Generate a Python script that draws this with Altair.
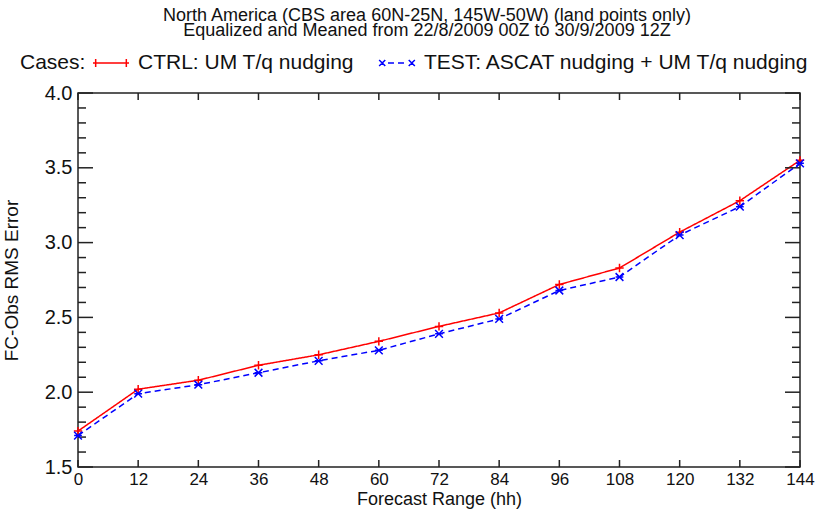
import altair as alt
import pandas as pd

# Forecast lead times (hours) and RMS errors for each experiment
hours = [0, 12, 24, 36, 48, 60, 72, 84, 96, 108, 120, 132, 144]
ctrl_rms = [1.74, 2.02, 2.08, 2.18, 2.25, 2.34, 2.44, 2.53, 2.72, 2.83, 3.07, 3.28, 3.55]
test_rms = [1.71, 1.99, 2.05, 2.13, 2.21, 2.28, 2.39, 2.49, 2.68, 2.77, 3.05, 3.24, 3.53]

case_names = ["CTRL: UM T/q nudging", "TEST: ASCAT nudging + UM T/q nudging"]
case_colors = ["#ff0000", "#0000ff"]

# Axis tick positions
y_major = [1.5, 2.0, 2.5, 3.0, 3.5, 4.0]
y_minor = [1.6, 1.7, 1.8, 1.9, 2.1, 2.2, 2.3, 2.4, 2.6, 2.7, 2.8, 2.9,
           3.1, 3.2, 3.3, 3.4, 3.6, 3.7, 3.8, 3.9]
x_ticks = hours

title_lines = [
    "North America (CBS area 60N-25N, 145W-50W) (land points only)",
    "Equalized and Meaned from 22/8/2009 00Z to 30/9/2009 12Z",
]

W, H = 722, 374
FONT = "Liberation Sans"
AXIS_COLOR = "#222222"

df = pd.DataFrame({
    "hour": hours * 2,
    "rms": ctrl_rms + test_rms,
    "case": [case_names[0]] * len(hours) + [case_names[1]] * len(hours),
})
ymaj_df = pd.DataFrame({"rms": y_major})
ymin_df = pd.DataFrame({"rms": y_minor})
xt_df = pd.DataFrame({"hour": x_ticks})

xscale = alt.Scale(domain=[0, 144], nice=False, zero=False)
yscale = alt.Scale(domain=[1.5, 4.0], nice=False, zero=False)

x_axis = alt.Axis(
    values=x_ticks,
    title="Forecast Range (hh)",
    tickSize=0,
    domain=False,
    grid=False,
    labelFlush=False,
    labelFontSize=17,
    labelPadding=4,
    titleFontSize=18,
    titleFontWeight="normal",
    titlePadding=3,
)
y_axis = alt.Axis(
    values=y_major,
    format=".1f",
    title="FC-Obs RMS Error",
    tickSize=0,
    domain=False,
    grid=False,
    labelFontSize=20,
    labelPadding=6,
    titleFontSize=19,
    titleFontWeight="normal",
    titlePadding=23,
)


def X(field="hour"):
    return alt.X(f"{field}:Q", scale=xscale, axis=x_axis)


def Y(field="rms"):
    return alt.Y(f"{field}:Q", scale=yscale, axis=y_axis)


# Marker glyphs: plus for CTRL, asterisk-like cross for TEST
plus_path = "M-1,0H1M0,-1V1"
star_path = "M-1,-1L1,1M-1,1L1,-1M-1,0H1"

# Legend glyphs: a short line segment with the marker drawn at each end
legend_ctrl = "M-1,0H1M-0.85,-0.22V0.22M0.85,-0.22V0.22"


def x_arms(cx):
    r = 0.17
    return "".join(
        f"M{cx},0L{cx + dx * r:.3f},{dy * r:.3f}"
        for dx, dy in [(-1, -1), (1, -1), (-1, 1), (1, 1)]
    )


legend_test = x_arms(-0.82) + "M-0.5,0H0.5" + x_arms(0.82)

legend = alt.Legend(
    title="Cases:",
    orient="none",
    direction="horizontal",
    legendX=-58,
    legendY=-49,
    titleOrient="left",
    titleAnchor="middle",
    titleBaseline="line-top",
    titleLineHeight=8,
    titleFontSize=21,
    titleFontWeight="normal",
    titleFont=FONT,
    titleColor="#111111",
    titlePadding=6,
    labelFontSize=21,
    labelFont=FONT,
    labelColor="#111111",
    labelLimit=0,
    labelOffset=8,
    columnPadding=22,
    symbolSize=1300,
    symbolStrokeWidth=1.5,
)

color_enc = alt.Color("case:N", scale=alt.Scale(domain=case_names, range=case_colors), legend=legend)
dash_enc = alt.StrokeDash("case:N", scale=alt.Scale(domain=case_names, range=[[1, 0], [6, 4]]),
                          legend=legend)

lines = alt.Chart(df).mark_line(strokeWidth=1.5).encode(
    x=X(), y=Y(), color=color_enc, strokeDash=dash_enc,
)

# Invisible layer that only supplies the legend glyph shapes
legend_glyphs = alt.Chart(df).mark_point(filled=False, strokeOpacity=0, fillOpacity=0).encode(
    x=X(), y=Y(),
    color=color_enc,
    strokeDash=dash_enc,
    shape=alt.Shape("case:N", scale=alt.Scale(domain=case_names, range=[legend_ctrl, legend_test]),
                    legend=legend),
)

ctrl_pts = alt.Chart(df).transform_filter(
    alt.datum.case == case_names[0]
).mark_point(shape=plus_path, filled=False, size=70, strokeWidth=1.5,
             color=case_colors[0], opacity=1).encode(x=X(), y=Y())
test_pts = alt.Chart(df).transform_filter(
    alt.datum.case == case_names[1]
).mark_point(shape=star_path, filled=False, size=60, strokeWidth=1.5,
             color=case_colors[1], opacity=1).encode(x=X(), y=Y())


# Inward-pointing ticks on all four sides of the frame
def yticks(data, length):
    left = alt.Chart(data).mark_rule(color=AXIS_COLOR, strokeWidth=1.5).encode(
        y=Y(), x=alt.value(0), x2=alt.value(length))
    right = alt.Chart(data).mark_rule(color=AXIS_COLOR, strokeWidth=1.5).encode(
        y=Y(), x=alt.value(W - length), x2=alt.value(W))
    return [left, right]


def xticks(data, length):
    bottom = alt.Chart(data).mark_rule(color=AXIS_COLOR, strokeWidth=1.5).encode(
        x=X(), y=alt.value(H - length), y2=alt.value(H))
    top = alt.Chart(data).mark_rule(color=AXIS_COLOR, strokeWidth=1.5).encode(
        x=X(), y=alt.value(0), y2=alt.value(length))
    return [bottom, top]


layers = ([lines] + yticks(ymaj_df, 15) + yticks(ymin_df, 8) + xticks(xt_df, 7)
          + [legend_glyphs, ctrl_pts, test_pts])

chart = alt.layer(*layers).properties(
    width=W,
    height=H,
    title=alt.TitleParams(
        text=title_lines,
        font=FONT,
        fontSize=18,
        fontWeight="normal",
        color="#111111",
        lineHeight=15.5,
        anchor="middle",
        dx=-12,
        offset=4,
    ),
    padding={"left": 78, "top": 93, "right": 16, "bottom": 43},
    autosize=alt.AutoSizeParams(type="none"),
).configure(
    font=FONT,
    background="white",
).configure_view(
    stroke=AXIS_COLOR,
    strokeWidth=1.5,
).configure_axis(
    labelColor="#111111",
    titleColor="#111111",
    labelFont=FONT,
    titleFont=FONT,
)

chart.save("out.html", embed_options={"renderer": "svg", "actions": False})
